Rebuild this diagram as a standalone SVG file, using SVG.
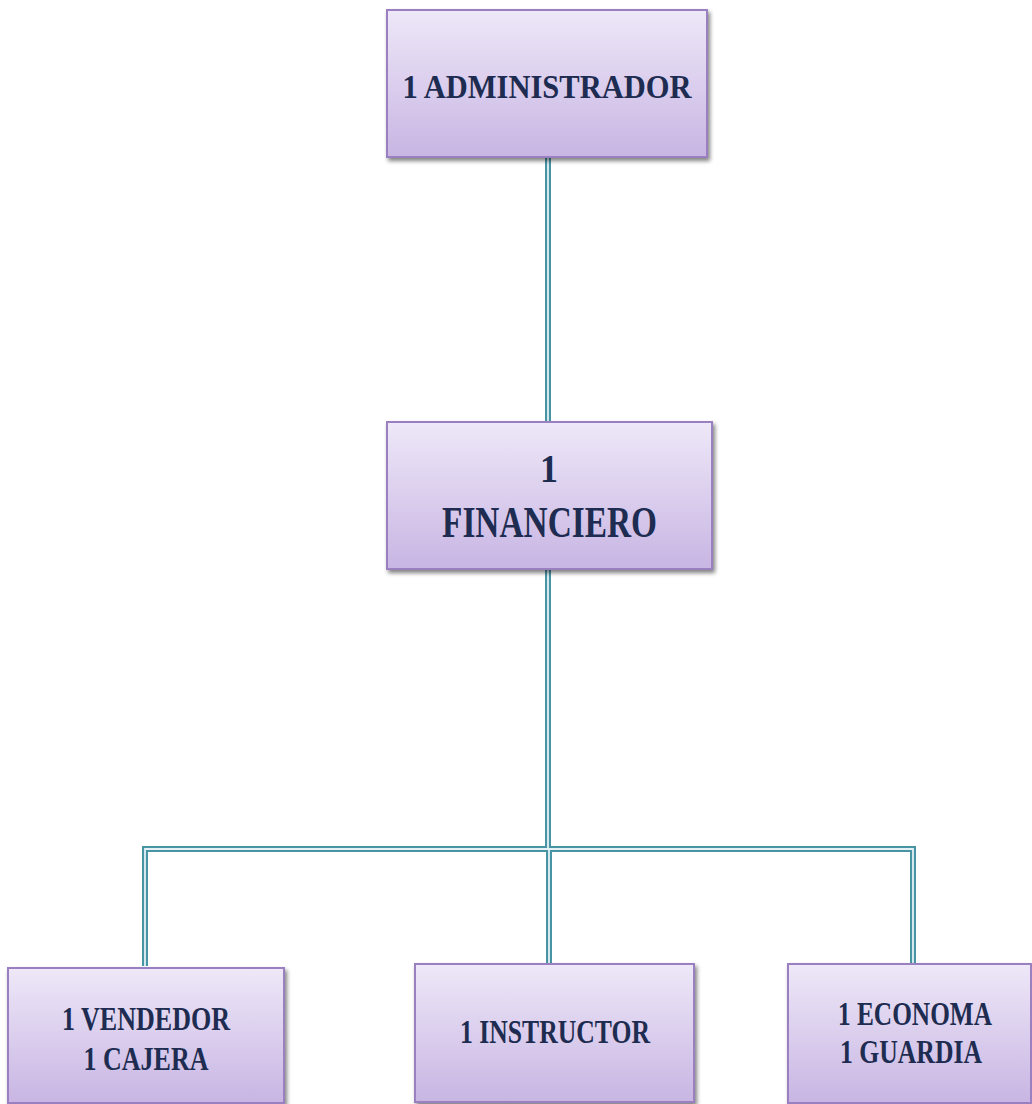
<svg xmlns="http://www.w3.org/2000/svg" xmlns:xlink="http://www.w3.org/1999/xlink" width="1032" height="1104" viewBox="0 0 1032 1104">
<style>
.box{fill:url(#g);stroke:#9a80c0;stroke-width:2;filter:url(#sh)}
.t{font-family:"Liberation Serif","Times New Roman",Times,serif;font-weight:bold;fill:#1d2c50;text-anchor:middle}
.outer{fill:none;stroke:#4894a5;stroke-width:6}
.inner{fill:none;stroke:#e4f2f5;stroke-width:1.8}
</style>
<defs>
<linearGradient id="g" x1="0" y1="0" x2="0" y2="1">
<stop offset="0" stop-color="#eee8f8"/>
<stop offset="1" stop-color="#c8b5e3"/>
</linearGradient>
<filter id="sh" x="-5%" y="-5%" width="115%" height="120%">
<feGaussianBlur in="SourceAlpha" stdDeviation="2"/>
<feOffset dx="2" dy="3" result="b"/>
<feComponentTransfer><feFuncA type="linear" slope="0.5"/></feComponentTransfer>
<feMerge><feMergeNode/><feMergeNode in="SourceGraphic"/></feMerge>
</filter>
<path id="c1" d="M548 157 V422"/>
<path id="c2" d="M548 569 V849 M145 966 V849 H913 V964 M549 849 V964"/>
</defs>
<g id="connectors">
<use xlink:href="#c1" class="outer"/>
<use xlink:href="#c2" class="outer"/>
<use xlink:href="#c1" class="inner"/>
<use xlink:href="#c2" class="inner"/>
</g>
<g id="n-admin">
<rect class="box" x="387" y="10" width="320" height="147"/>
<text class="t" x="547" y="98" font-size="33" textLength="289" lengthAdjust="spacingAndGlyphs">1 ADMINISTRADOR</text>
</g>
<g id="n-financiero">
<rect class="box" x="387" y="422" width="325" height="147"/>
<text class="t" x="549" y="482" font-size="41" textLength="18" lengthAdjust="spacingAndGlyphs">1</text>
<text class="t" x="549.5" y="537" font-size="44" textLength="215" lengthAdjust="spacingAndGlyphs">FINANCIERO</text>
</g>
<g id="n-vendedor">
<rect class="box" x="8" y="968" width="276" height="135"/>
<text class="t" x="146" y="1030" font-size="34" textLength="168" lengthAdjust="spacingAndGlyphs">1 VENDEDOR</text>
<text class="t" x="146" y="1070" font-size="34" textLength="125" lengthAdjust="spacingAndGlyphs">1 CAJERA</text>
</g>
<g id="n-instructor">
<rect class="box" x="415" y="964" width="279" height="138"/>
<text class="t" x="555" y="1043" font-size="34" textLength="190" lengthAdjust="spacingAndGlyphs">1 INSTRUCTOR</text>
</g>
<g id="n-economa">
<rect class="box" x="788" y="964" width="243" height="139"/>
<text class="t" x="915" y="1025" font-size="34" textLength="154" lengthAdjust="spacingAndGlyphs">1 ECONOMA</text>
<text class="t" x="911" y="1063" font-size="34" textLength="142" lengthAdjust="spacingAndGlyphs">1 GUARDIA</text>
</g>
</svg>
